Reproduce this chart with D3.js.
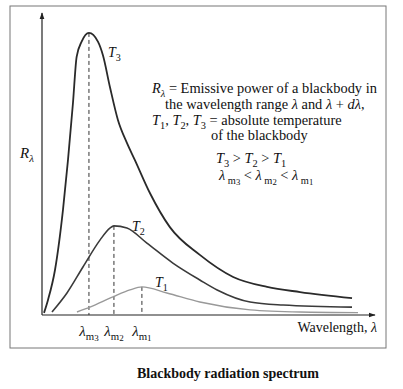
<!DOCTYPE html>
<html>
<head>
<meta charset="utf-8">
<script src="https://cdn.jsdelivr.net/npm/d3@7"></script>
<style>
  body{margin:0;background:#fff}
  svg{display:block;font-family:"Liberation Serif","DejaVu Serif",serif}
</style>
</head>
<body>
<script>
// curves (wavelength, R), arbitrary units 0..10
const t3Wave = [0.06,0.18,0.39,0.63,0.78,0.93,1.04,1.19,1.41,1.68,1.83,2.04,2.28,2.55,2.79,3.24,3.84,4.74,5.74,6.76,7.75,9.31]
const t3Power = [0.07,0.50,1.49,3.48,5.13,7.02,8.55,9.05,9.34,9.05,8.60,7.55,6.46,5.70,5.13,4.04,2.91,1.99,1.26,0.93,0.76,0.56]
const t2Wave = [0.30,0.75,1.23,1.74,2.04,2.16,2.55,3.15,3.93,4.74,5.26,6.25,7.24,9.31]
const t2Power = [0.10,0.73,1.59,2.48,2.88,2.95,2.88,2.38,1.72,1.16,0.83,0.43,0.33,0.26]
const t1Wave = [1.05,1.44,2.13,2.64,3.00,3.75,4.74,6.25,7.75,9.49]
const t1Power = [0.10,0.26,0.60,0.83,0.93,0.73,0.43,0.17,0.10,0.08]
const peakWave = [1.41,2.16,3.00]
const peakPower = [9.34,2.95,0.93]
const peakSub = ["3","2","1"]

const width = 403, height = 389
const svg = d3.select("body").append("svg").attr("width",width).attr("height",height)

// frame
svg.append("rect").attr("x",10).attr("y",6).attr("width",376).attr("height",342)
  .attr("fill","none").attr("stroke","#777").attr("stroke-width",1)

const x = d3.scaleLinear().domain([0,10]).range([42,375])
const y = d3.scaleLinear().domain([0,10]).range([315,13])

// arrowheads
const defs = svg.append("defs")
defs.append("marker").attr("id","arrow").attr("viewBox","0 0 10 10")
  .attr("refX",9).attr("refY",5).attr("markerWidth",6).attr("markerHeight",6)
  .attr("orient","auto")
  .append("path").attr("d","M0,1.5 L10,5 L0,8.5 Z").attr("fill","#222")

// axes
svg.append("line").attr("x1",x(0)).attr("y1",y(0)).attr("x2",x(10)).attr("y2",y(0))
  .attr("stroke","#222").attr("stroke-width",1.2).attr("marker-end","url(#arrow)")
svg.append("line").attr("x1",x(0)).attr("y1",y(0)).attr("x2",x(0)).attr("y2",y(10))
  .attr("stroke","#222").attr("stroke-width",1.2).attr("marker-end","url(#arrow)")

// dashed peak lines
svg.selectAll(".peak").data(peakWave).join("line").attr("class","peak")
  .attr("x1",d=>x(d)).attr("x2",d=>x(d))
  .attr("y1",(d,i)=>y(peakPower[i])).attr("y2",y(0))
  .attr("stroke","#333").attr("stroke-width",1).attr("stroke-dasharray","4,3")

// curves
const line = d3.line().x(d=>x(d[0])).y(d=>y(d[1])).curve(d3.curveMonotoneX)
const curves = [
  {w:t1Wave,p:t1Power,color:"#999",sw:1.4},
  {w:t2Wave,p:t2Power,color:"#3a3a3a",sw:1.6},
  {w:t3Wave,p:t3Power,color:"#2a2a2a",sw:1.8}
]
curves.forEach(c=>{
  svg.append("path").datum(c.w.map((v,i)=>[v,c.p[i]]))
    .attr("d",line).attr("fill","none")
    .attr("stroke",c.color).attr("stroke-width",c.sw)
})

// rich text: parts are [text, style] where style is "" / "i" / "s" (sub) / "si" / "ss" (small sub)
function rich(xp,yp,parts,opts={}){
  let size = opts.size||14
  let t = svg.append("text").attr("x",xp).attr("y",yp).attr("font-size",size).attr("fill","#111")
  if(opts.anchor) t.attr("text-anchor",opts.anchor)
  let cur = 0
  parts.forEach(([s,st])=>{
    let sp = t.append("tspan").text(s)
    let off = 0
    if(st.includes("i")) sp.attr("font-style","italic")
    if(st.includes("ss")){ off = 5; sp.attr("font-size",size*0.6) }
    else if(st.includes("s")){ off = 3.5; sp.attr("font-size",size*0.72) }
    if(off!==cur) sp.attr("dy",off-cur)
    cur = off
  })
  return t
}

// curve labels
rich(108,57,[["T","i"],["3","s"]])
rich(132,231,[["T","i"],["2","s"]])
rich(155,287,[["T","i"],["1","s"]])

// lambda_m labels
peakWave.forEach((d,i)=>{
  rich(x(d),336,[["λ","i"],["m","s"],[peakSub[i],"ss"]],{anchor:"middle",size:15})
})

// axis titles
rich(20,158,[["R","i"],["λ","si"]],{size:15})
rich(377,332,[["Wavelength, ",""],["λ","i"]],{anchor:"end"})

// description block
rich(152,93,[["R","i"],["λ","si"],["  = Emissive power of a blackbody in",""]],{size:14.4})
rich(165,109,[["the wavelength range ",""],["λ","i"],[" and ",""],["λ","i"],[" + ",""],["dλ","i"],[",",""]],{size:14.4})
rich(152,125,[["T","i"],["1","s"],[", ",""],["T","i"],["2","s"],[", ",""],["T","i"],["3","s"],[" = absolute temperature",""]],{size:14.4})
rich(211,140,[["of the blackbody",""]],{size:14.4})
rich(216,163,[["T","i"],["3","s"],[" > ",""],["T","i"],["2","s"],[" > ",""],["T","i"],["1","s"]],{size:14.4})
rich(219,180,[["λ","i"],[" m","s"],["3","ss"],[" < ",""],["λ","i"],[" m","s"],["2","ss"],[" < ",""],["λ","i"],[" m","s"],["1","ss"]],{size:14.4})

// title
svg.append("text").attr("x",228).attr("y",378).attr("text-anchor","middle")
  .attr("font-size",14).attr("font-weight","bold").attr("fill","#111")
  .text("Blackbody radiation spectrum")
</script>
</body>
</html>
